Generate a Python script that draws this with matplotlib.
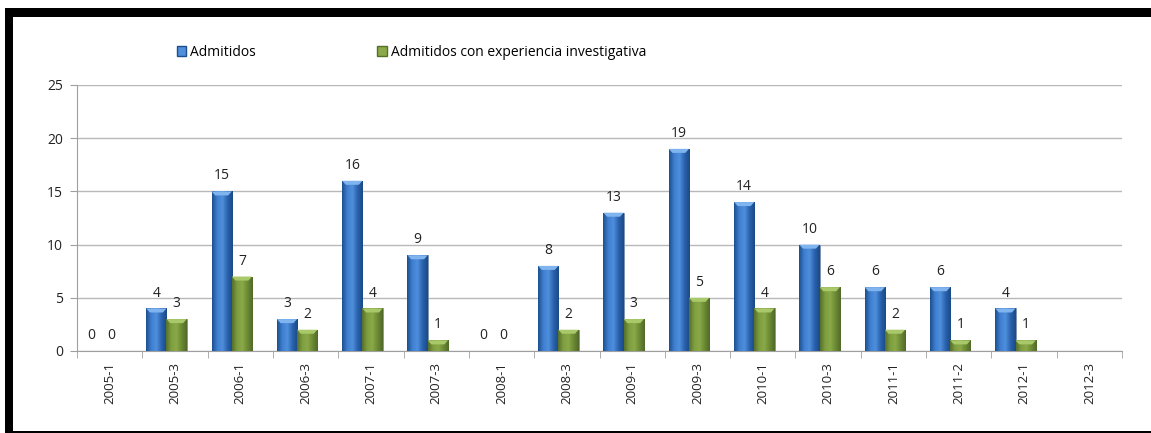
import numpy as np
import matplotlib.pyplot as plt
from matplotlib.patches import Rectangle
from matplotlib.colors import LinearSegmentedColormap

# ─────────────────────────────────────────────────────────────────────────────
# DATA
# ─────────────────────────────────────────────────────────────────────────────

PERIODS = ["2005-1", "2005-3", "2006-1", "2006-3", "2007-1", "2007-3",
           "2008-1", "2008-3", "2009-1", "2009-3", "2010-1", "2010-3",
           "2011-1", "2011-2", "2012-1", "2012-3"]

ADMITIDOS = [0, 4, 15, 3, 16, 9, 0, 8, 13, 19, 14, 10, 6, 6, 4, None]
ADMITIDOS_INV = [0, 3, 7, 2, 4, 1, 0, 2, 3, 5, 4, 6, 2, 1, 1, None]

LABELS = ["Admitidos", "Admitidos con experiencia investigativa"]
Y_TICKS = [0, 5, 10, 15, 20, 25]

BLUE = ["#1d4f8f", "#3f7fd0", "#4f8fdc", "#2a62ad", "#1a4a87"]
GREEN = ["#56702a", "#7f9e3f", "#8aa948", "#6b8a33", "#52692a"]
BLUE_TOP = "#7fb4ee"
GREEN_TOP = "#a9c86a"

FONT = "Open Sans"
plt.rcParams["font.family"] = [FONT, "DejaVu Sans"]

W, H = 1151, 433
fig = plt.figure(figsize=(W / 100, H / 100), dpi=100)

# plot area in pixels
x0, x1 = 77, 1122
y_top, y_bot = 85, 351
ax = fig.add_axes([x0 / W, 1 - y_bot / H, (x1 - x0) / W, (y_bot - y_top) / H])

n = len(PERIODS)
x = np.arange(n)
bw = 0.31
off_a, off_b = -0.285, 0.025


def shade_bar(ax, bar, colors, top_color):
    bx, by = bar.get_x(), bar.get_y()
    bwid, bh = bar.get_width(), bar.get_height()
    if bh <= 0:
        return
    cmap = LinearSegmentedColormap.from_list("g", colors)
    grad = np.linspace(0, 1, 64).reshape(1, -1)
    im = ax.imshow(grad, cmap=cmap, aspect="auto", zorder=3,
                   extent=(bx, bx + bwid, by, by + bh), interpolation="bilinear")
    im.set_clip_path(bar)
    # bevelled top cap
    cap = min(0.38, bh * 0.5)
    ax.fill([bx, bx + bwid, bx + bwid * 0.82, bx + bwid * 0.18],
            [by + bh, by + bh, by + bh - cap, by + bh - cap],
            color=top_color, zorder=4, lw=0)


vals_a = np.array([v if v is not None else 0 for v in ADMITIDOS], dtype=float)
vals_b = np.array([v if v is not None else 0 for v in ADMITIDOS_INV], dtype=float)

bars_a = ax.bar(x + off_a, vals_a, bw, color=BLUE[1], edgecolor="#7a8fa8",
                linewidth=0.6, zorder=2, label=LABELS[0])
bars_b = ax.bar(x + off_b, vals_b, bw, color=GREEN[1], edgecolor="#8a9478",
                linewidth=0.6, zorder=2, label=LABELS[1])

for bar in bars_a:
    shade_bar(ax, bar, BLUE, BLUE_TOP)
for bar in bars_b:
    shade_bar(ax, bar, GREEN, GREEN_TOP)

# data labels
for i in range(n):
    if ADMITIDOS[i] is not None:
        ax.text(x[i] + off_a, ADMITIDOS[i] + 1.45, str(ADMITIDOS[i]),
                ha="center", va="center", fontsize=10, color="#222222")
    if ADMITIDOS_INV[i] is not None:
        ax.text(x[i] + off_b, ADMITIDOS_INV[i] + 1.45, str(ADMITIDOS_INV[i]),
                ha="center", va="center", fontsize=10, color="#222222")

ax.set_xlim(-0.5, n - 0.5)
ax.set_ylim(0, 25)
ax.set_yticks(Y_TICKS)
ax.set_yticklabels([str(t) for t in Y_TICKS], fontsize=10, color="#222222")
ax.yaxis.grid(True, color="#b8b8b8", linewidth=1.0)
ax.set_axisbelow(True)

ax.set_xticks(x)
ax.set_xticklabels(PERIODS, rotation=90, fontsize=9.5, color="#222222")
ax.set_xticks(np.arange(n + 1) - 0.5, minor=True)
ax.tick_params(axis="x", which="major", length=0, pad=8)
ax.tick_params(axis="x", which="minor", length=5, color="#a0a0a0", direction="out")
ax.tick_params(axis="y", length=5, color="#a0a0a0", pad=5)

for side in ["top", "right"]:
    ax.spines[side].set_visible(False)
ax.spines["left"].set_color("#a0a0a0")
ax.spines["bottom"].set_color("#a0a0a0")

# legend
handles = [Rectangle((0, 0), 1, 1, facecolor=BLUE[2], edgecolor=BLUE[0]),
           Rectangle((0, 0), 1, 1, facecolor=GREEN[2], edgecolor=GREEN[0])]
fig.legend(handles, LABELS, loc="center left", bbox_to_anchor=(164 / W, 1 - 52 / H),
           ncol=2, frameon=False, fontsize=10, handlelength=0.7, handleheight=0.7,
           handletextpad=0.3, columnspacing=8.7)

# black frame
fig.patches.append(Rectangle((5 / W, 1 - 17 / H), 1, 9 / H, transform=fig.transFigure,
                             facecolor="black", edgecolor="none"))
fig.patches.append(Rectangle((5 / W, 0), 8 / W, 1 - 8 / H, transform=fig.transFigure,
                             facecolor="black", edgecolor="none"))
fig.patches.append(Rectangle((5 / W, 0), 1, 2 / H, transform=fig.transFigure,
                             facecolor="black", edgecolor="none"))

fig.savefig("out.png", dpi=100)
